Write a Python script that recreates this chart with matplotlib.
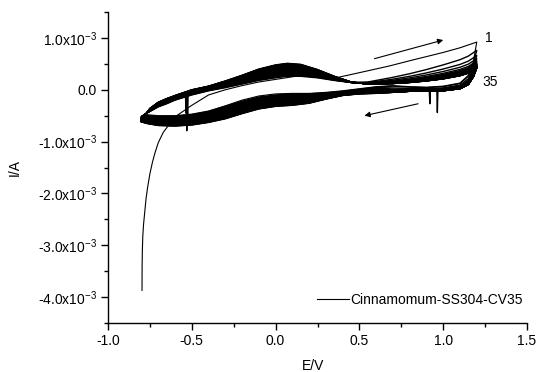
import numpy as np
import matplotlib
matplotlib.use("Agg")
import matplotlib.pyplot as plt
from matplotlib.ticker import AutoMinorLocator
from matplotlib.lines import Line2D

# ---------------- data (current values in mA, i.e. x1e-3 A) ----------------
E_fwd = [-0.8, -0.78, -0.75, -0.7, -0.65, -0.6, -0.5, -0.4, -0.3, -0.2, -0.1, 0.0,
         0.07, 0.15, 0.25, 0.35, 0.45, 0.55, 0.7, 0.8, 0.9, 1.0, 1.1, 1.15, 1.2]
I_fwd_c2 = [-0.52, -0.47, -0.42, -0.33, -0.27, -0.2, -0.1, -0.02, 0.04, 0.11, 0.18, 0.23,
            0.26, 0.26, 0.23, 0.18, 0.14, 0.15, 0.24, 0.31, 0.39, 0.48, 0.58, 0.65, 0.76]
I_fwd_c35 = [-0.62, -0.5, -0.36, -0.24, -0.17, -0.11, 0.0, 0.07, 0.17, 0.28, 0.4, 0.48,
             0.51, 0.49, 0.39, 0.26, 0.15, 0.11, 0.12, 0.14, 0.17, 0.21, 0.27, 0.32, 0.42]

E_rev = [1.2, 1.18, 1.15, 1.1, 1.0, 0.9, 0.8, 0.7, 0.6, 0.5, 0.4, 0.3, 0.2, 0.1, 0.0,
         -0.1, -0.2, -0.3, -0.4, -0.5, -0.6, -0.7, -0.77, -0.8]
I_rev_c2 = [0.76, 0.5, 0.26, 0.12, 0.06, 0.04, 0.05, 0.07, 0.05, 0.01, -0.03, -0.06, -0.08,
            -0.08, -0.1, -0.14, -0.22, -0.32, -0.42, -0.48, -0.51, -0.51, -0.5, -0.52]
I_rev_c35 = [0.42, 0.25, 0.1, 0.02, -0.02, -0.03, -0.03, -0.05, -0.07, -0.08, -0.11, -0.18,
             -0.26, -0.3, -0.32, -0.37, -0.46, -0.56, -0.63, -0.68, -0.7, -0.69, -0.65, -0.62]

# first cycle (starts at open-circuit cathodic current)
E_c1_fwd = [-0.797, -0.7965, -0.795, -0.7925, -0.788, -0.782, -0.773, -0.763, -0.75, -0.735,
            -0.72, -0.7, -0.67, -0.63, -0.59, -0.5, -0.4, -0.3, -0.2, -0.1, 0.0, 0.14, 0.25,
            0.36, 0.5, 0.68, 0.8, 0.9, 1.0, 1.1, 1.2]
I_c1_fwd = [-3.87, -3.4, -3.1, -2.83, -2.6, -2.4, -2.1, -1.87, -1.62, -1.4,
            -1.22, -1.02, -0.82, -0.65, -0.5, -0.3, -0.1, 0.0, 0.08, 0.15, 0.2, 0.27, 0.25,
            0.23, 0.33, 0.46, 0.56, 0.64, 0.72, 0.81, 0.92]
I_c1_rev = [0.92, 0.55, 0.28, 0.13, 0.07, 0.05, 0.06, 0.08, 0.06, 0.02, -0.02, -0.05, -0.07,
            -0.07, -0.08, -0.12, -0.2, -0.31, -0.41, -0.47, -0.5, -0.5, -0.48, -0.5]

# anodic end current (at 1.2 V) of each cycle 1..35
end_current = [0.92, 0.76, 0.66, 0.60, 0.555, 0.53, 0.51, 0.50, 0.49, 0.485,
               0.48, 0.475, 0.47, 0.465, 0.46, 0.456, 0.452, 0.449, 0.446, 0.443,
               0.44, 0.438, 0.436, 0.434, 0.432, 0.43, 0.429, 0.428, 0.427, 0.426,
               0.425, 0.424, 0.423, 0.421, 0.42]
# anodic peak current (near 0.07 V) of each cycle 1..35
peak_current = [0.27, 0.26, 0.275, 0.29, 0.30, 0.31, 0.32, 0.33, 0.34, 0.35,
                0.36, 0.37, 0.375, 0.385, 0.39, 0.40, 0.405, 0.415, 0.42, 0.43,
                0.435, 0.44, 0.45, 0.455, 0.46, 0.465, 0.47, 0.475, 0.48, 0.485,
                0.49, 0.495, 0.50, 0.505, 0.51]

# current spikes: (cycle, scan, potential, spike current)
spike_cycle = [12, 18, 25, 20, 28]
spike_scan = ["fwd", "fwd", "fwd", "rev", "rev"]
spike_E = [-0.53, -0.525, -0.535, 0.92, 0.965]
spike_I = [-0.79, -0.6, -0.45, -0.27, -0.44]

ytick_vals = [-4.0, -3.0, -2.0, -1.0, 0.0, 1.0]
ytick_labels = ["-4.0x10$^{-3}$", "-3.0x10$^{-3}$", "-2.0x10$^{-3}$", "-1.0x10$^{-3}$",
                "0.0", "1.0x10$^{-3}$"]
xtick_vals = [-1.0, -0.5, 0.0, 0.5, 1.0, 1.5]
xtick_labels = ["-1.0", "-0.5", "0.0", "0.5", "1.0", "1.5"]

legend_label = "Cinnamomum-SS304-CV35"

# ---------------- figure ----------------
plt.rcParams['font.family'] = ['Liberation Sans', 'DejaVu Sans']
plt.rcParams['mathtext.fontset'] = 'custom'
plt.rcParams['mathtext.rm'] = 'Liberation Sans'
plt.rcParams['mathtext.it'] = 'Liberation Sans:italic'

fig = plt.figure(figsize=(5.4, 3.72), dpi=100)
ax = fig.add_axes([0.2, 0.1317, 0.776, 0.836])

def add_spikes(E, I, k, scan):
    E = list(E); I = list(I)
    for c, s, es, isp in zip(spike_cycle, spike_scan, spike_E, spike_I):
        if c != k or s != scan:
            continue
        Ea = np.array(E); Ia = np.array(I)
        order = np.argsort(Ea)
        base = float(np.interp(es, Ea[order], Ia[order]))
        if scan == "fwd":
            idx = int(np.searchsorted(Ea, es))
            E[idx:idx] = [es - 0.003, es, es + 0.003]
        else:
            idx = int(np.sum(Ea > es))
            E[idx:idx] = [es + 0.003, es, es - 0.003]
        I[idx:idx] = [base, isp, base]
    return E, I

fwd_hi = np.array(E_fwd) >= 0.55     # points governed by the end-current fan
rev_hi = np.array(E_rev) >= 0.7

lw = 1.0
e2, e35 = end_current[1], end_current[-1]
p2, p35 = peak_current[1], peak_current[-1]
for k in range(1, 36):
    if k == 1:
        Ef, If = E_c1_fwd, I_c1_fwd
        Er, Ir = E_rev, I_c1_rev
    else:
        we = (end_current[k - 1] - e35) / (e2 - e35)
        wp = (peak_current[k - 1] - p35) / (p2 - p35)
        wf = np.where(fwd_hi, we, wp)
        wr = np.where(rev_hi, we, wp)
        If = list(np.array(I_fwd_c35) + wf * (np.array(I_fwd_c2) - np.array(I_fwd_c35)))
        Ir = list(np.array(I_rev_c35) + wr * (np.array(I_rev_c2) - np.array(I_rev_c35)))
        Ef, Er = E_fwd, E_rev
    Ef2, If2 = add_spikes(Ef, If, k, "fwd")
    Er2, Ir2 = add_spikes(Er, Ir, k, "rev")
    E_all = list(Ef2) + list(Er2)
    I_all = np.array(list(If2) + list(Ir2)) * 1e-3
    ax.plot(E_all, I_all, color='black', lw=(0.8 if k == 1 else lw), solid_joinstyle='round')

# arrows and cycle labels
ax.annotate("", xy=(1.0, 0.96e-3), xytext=(0.59, 0.6e-3),
            arrowprops=dict(arrowstyle='-|>', color='black', lw=0.8,
                            mutation_scale=8, shrinkA=0, shrinkB=0))
ax.annotate("", xy=(0.53, -0.5e-3), xytext=(0.85, -0.27e-3),
            arrowprops=dict(arrowstyle='-|>', color='black', lw=0.8,
                            mutation_scale=8, shrinkA=0, shrinkB=0))
ax.text(1.25, 1.0e-3, "1", fontsize=10, ha='left', va='center')
ax.text(1.235, 0.15e-3, "35", fontsize=10, ha='left', va='center')

# axes styling
ax.set_xlim(-1.0, 1.5)
ax.set_ylim(-4.5e-3, 1.5e-3)
ax.set_xticks(xtick_vals)
ax.set_xticklabels(xtick_labels)
ax.set_yticks([v * 1e-3 for v in ytick_vals])
ax.set_yticklabels(ytick_labels)
ax.xaxis.set_minor_locator(AutoMinorLocator(2))
ax.yaxis.set_minor_locator(AutoMinorLocator(2))
ax.tick_params(which='major', direction='out', length=5, width=1, labelsize=10, pad=3)
ax.tick_params(which='minor', direction='out', length=3, width=1)
for s in ['top', 'right']:
    ax.spines[s].set_visible(False)
for s in ['left', 'bottom']:
    ax.spines[s].set_linewidth(1)

fig.text(15 / 540, 1 - 167 / 372, "I/A", rotation=90, ha='center', va='center', fontsize=10)
fig.text(313 / 540, 1 - 366 / 372, "E/V", ha='center', va='center', fontsize=10)

handle = Line2D([0], [0], color='black', lw=0.8)
ax.legend([handle], [legend_label], loc='center right', bbox_to_anchor=(0.99, 0.074),
          frameon=False, fontsize=10, handlelength=2.3, handletextpad=0.1, borderpad=0,
          borderaxespad=0)

fig.savefig("out.png", dpi=100)
